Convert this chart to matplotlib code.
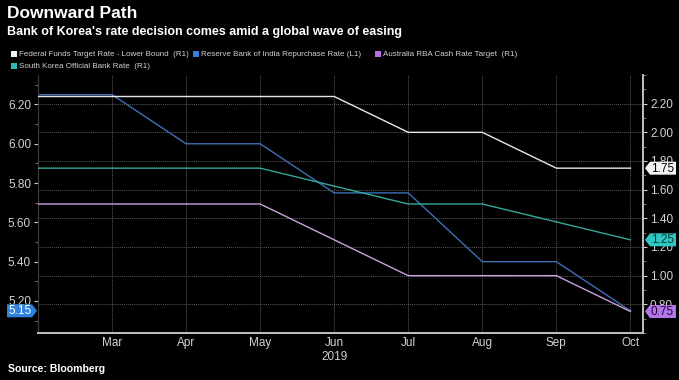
import matplotlib
matplotlib.use('Agg')
import matplotlib.pyplot as plt
import matplotlib.transforms as mtransforms
from matplotlib.patches import Polygon, Rectangle
from matplotlib.ticker import FixedLocator, MultipleLocator

# ---------------- data ----------------
months = ['Feb', 'Mar', 'Apr', 'May', 'Jun', 'Jul', 'Aug', 'Sep', 'Oct']
fed_rate = [2.25, 2.25, 2.25, 2.25, 2.25, 2.00, 2.00, 1.75, 1.75]
india_rate = [6.25, 6.25, 6.00, 6.00, 5.75, 5.75, 5.40, 5.40, 5.15]
australia_rate = [1.50, 1.50, 1.50, 1.50, 1.25, 1.00, 1.00, 1.00, 0.75]
korea_months = ['Feb', 'May', 'Jul', 'Aug', 'Oct']
korea_rate = [1.75, 1.75, 1.50, 1.50, 1.25]
tick_months = ['Mar', 'Apr', 'May', 'Jun', 'Jul', 'Aug', 'Sep', 'Oct']
year_label = '2019'
left_ticks = [5.20, 5.40, 5.60, 5.80, 6.00, 6.20]
right_ticks = [0.80, 1.00, 1.20, 1.40, 1.60, 1.80, 2.00, 2.20]
legend_labels = ['Federal Funds Target Rate - Lower Bound  (R1)',
                 'Reserve Bank of India Repurchase Rate (L1)',
                 'Australia RBA Cash Rate Target  (R1)',
                 'South Korea Official Bank Rate  (R1)']

title = 'Downward Path'
subtitle = "Bank of Korea's rate decision comes amid a global wave of easing"
source = 'Source: Bloomberg'

# ---------------- style ----------------
FONT = ['Liberation Sans', 'DejaVu Sans']
C_FED = '#e8e8e8'
C_IND = '#3f6fb8'
C_AUS = '#c9a3dc'
C_KOR = '#33a99c'
SQ = ['#f4f4f4', '#3a7fdc', '#b56ee8', '#2bbdb3']
TXT = '#d2d2d2'

W, H = 679, 380
fig = plt.figure(figsize=(W / 100, H / 100), dpi=100, facecolor='black')
ax = fig.add_axes([38 / W, 1 - 333 / H, (643 - 38) / W, (333 - 75) / H])
ax.set_facecolor('black')
ax2 = ax.twinx()

xi = {m: i for i, m in enumerate(months)}
x_all = [xi[m] for m in months]
x_kor = [xi[m] for m in korea_months]

lw = 1.0
ax.plot(x_all, india_rate, color=C_IND, lw=lw, zorder=3)
ax2.plot(x_all, fed_rate, color=C_FED, lw=lw, zorder=3)
ax2.plot(x_all, australia_rate, color=C_AUS, lw=lw, zorder=3)
ax2.plot(x_kor, korea_rate, color=C_KOR, lw=lw, zorder=3)

ax.set_xlim(0, 8.17)
ax.set_ylim(5.037, 6.35)
ax2.set_ylim(0.6, 2.4)

# x axis
ax.set_xticks([xi[m] for m in tick_months])
ax.set_xticklabels(tick_months)
ax.tick_params(axis='x', length=0, pad=3, colors=TXT, labelsize=8.5)
for lab in ax.get_xticklabels():
    lab.set_family(FONT)
ax.grid(axis='x', color='#5a5a5a', lw=0.7, ls=(0, (1, 1)))
ax.text(xi['Jun'], -0.068, year_label, transform=ax.get_xaxis_transform(),
        ha='center', va='top', color=TXT, fontsize=8.5, family=FONT)

# left y axis
ax.yaxis.set_major_locator(FixedLocator(left_ticks))
ax.yaxis.set_minor_locator(MultipleLocator(0.1))
ax.yaxis.set_major_formatter(matplotlib.ticker.FormatStrFormatter('%.2f'))
ax.tick_params(axis='y', which='major', length=3, width=0.8, colors=TXT,
               labelsize=8.5, pad=2)
ax.tick_params(axis='y', which='minor', length=2, width=0.6, colors='#888888')
for lab in ax.get_yticklabels():
    lab.set_family(FONT)

# right y axis
ax2.yaxis.set_major_locator(FixedLocator(right_ticks))
ax2.yaxis.set_minor_locator(MultipleLocator(0.1))
ax2.yaxis.set_major_formatter(matplotlib.ticker.FormatStrFormatter('%.2f'))
ax2.tick_params(axis='y', which='major', length=3, width=0.8, colors=TXT,
                labelsize=8.5, pad=2)
ax2.tick_params(axis='y', which='minor', length=2, width=0.6, colors='#888888')
for lab in ax2.get_yticklabels():
    lab.set_family(FONT)
ax2.grid(axis='y', color='#5a5a5a', lw=0.7, ls=(0, (1, 1)))
ax2.set_axisbelow(True)

for a in (ax, ax2):
    a.spines['top'].set_visible(False)
    a.spines['bottom'].set_color('#bdbdbd')
    a.spines['bottom'].set_linewidth(1.3)
    a.spines['right'].set_color('#bdbdbd')
    a.spines['right'].set_linewidth(1.3)
    a.spines['left'].set_color('#3a3a3a')
    a.spines['left'].set_linewidth(0.8)

# value tags
def right_tag(value, fc, tc):
    base = mtransforms.blended_transform_factory(ax2.transAxes, ax2.transData)
    tr = mtransforms.ScaledTranslation(1.0, value, base)
    verts = [(2, 0), (7, 6.5), (33, 6.5), (33, -6.5), (7, -6.5)]
    p = Polygon(verts, closed=True, transform=tr, fc=fc, ec='none',
                zorder=10, clip_on=False)
    ax2.add_patch(p)
    ax2.text(19.5, -0.5, f'{value:.2f}', transform=tr, ha='center', va='center',
             color=tc, fontsize=8.5, family=FONT, zorder=11, clip_on=False)

def left_tag(value, fc, tc):
    base = mtransforms.blended_transform_factory(ax.transAxes, ax.transData)
    tr = mtransforms.ScaledTranslation(0.0, value, base)
    verts = [(-1, 0), (-6, 6.5), (-31, 6.5), (-31, -6.5), (-6, -6.5)]
    p = Polygon(verts, closed=True, transform=tr, fc=fc, ec='none',
                zorder=10, clip_on=False)
    ax2.add_patch(p)
    ax2.text(-18, -0.5, f'{value:.2f}', transform=tr, ha='center', va='center',
             color=tc, fontsize=8.5, family=FONT, zorder=11, clip_on=False)

right_tag(fed_rate[-1], '#f4f4f4', '#000000')
right_tag(korea_rate[-1], '#2fc6c2', '#0b3b3b')
right_tag(australia_rate[-1], '#b474ea', '#1e0830')
left_tag(india_rate[-1], '#2f83de', '#ffffff')

# titles
fig.text(7 / W, 1 - 13 / H, title, ha='left', va='center', color='white',
         fontsize=12.5, fontweight='bold', family=FONT)
fig.text(7 / W, 1 - 32 / H, subtitle, ha='left', va='center', color='white',
         fontsize=9.0, fontweight='bold', family=FONT)

# legend
leg_pos = [(11, 54), (193, 54), (375, 54), (11, 66)]
for (lx, ly), lab, c in zip(leg_pos, legend_labels, SQ):
    fig.patches.append(Rectangle((lx / W, 1 - (ly + 3) / H), 6 / W, 6 / H,
                                 transform=fig.transFigure, fc=c, ec='none'))
    fig.text((lx + 8) / W, 1 - ly / H, lab, ha='left', va='center',
             color=TXT, fontsize=5.8, family=FONT)

fig.text(8 / W, 1 - 369 / H, source, ha='left', va='center', color='white',
         fontsize=7.6, fontweight='bold', family=FONT)

fig.savefig('out.png', dpi=100, facecolor='black')
